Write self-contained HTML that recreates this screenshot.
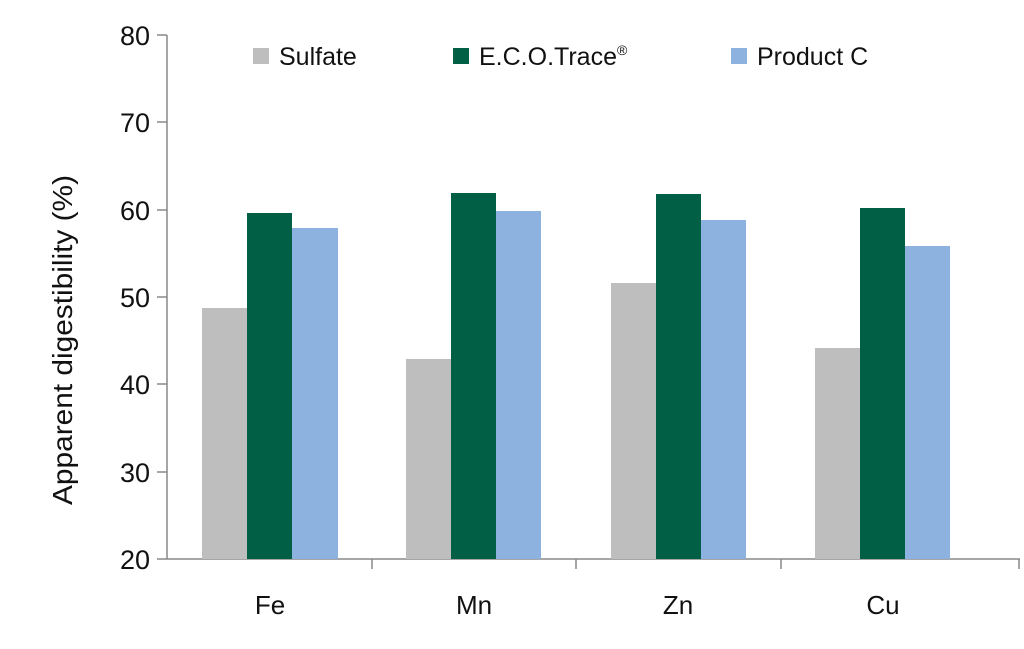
<!DOCTYPE html>
<html><head><meta charset="utf-8"><style>
body{margin:0;background:#fff;}
text{font-family:"Liberation Sans",sans-serif;fill:#111;}
</style></head><body>
<svg width="1024" height="644" xmlns="http://www.w3.org/2000/svg">
<g stroke="#888" stroke-width="1.5" fill="none">
<line x1="167" y1="35" x2="167" y2="559"/>
<line x1="167" y1="559" x2="1020" y2="559"/>
<line x1="157" y1="35" x2="167" y2="35"/>
<line x1="157" y1="122" x2="167" y2="122"/>
<line x1="157" y1="210" x2="167" y2="210"/>
<line x1="157" y1="297" x2="167" y2="297"/>
<line x1="157" y1="384" x2="167" y2="384"/>
<line x1="157" y1="472" x2="167" y2="472"/>
<line x1="157" y1="559" x2="167" y2="559"/>
<line x1="372" y1="559" x2="372" y2="569"/>
<line x1="576" y1="559" x2="576" y2="569"/>
<line x1="781" y1="559" x2="781" y2="569"/>
<line x1="1019" y1="559" x2="1019" y2="569"/>
</g>
<g font-size="27" text-anchor="end">
<text x="150" y="45">80</text>
<text x="150" y="132">70</text>
<text x="150" y="220">60</text>
<text x="150" y="307">50</text>
<text x="150" y="394">40</text>
<text x="150" y="482">30</text>
<text x="150" y="569">20</text>
</g>
<text x="72" y="340" font-size="28" text-anchor="middle" textLength="330" lengthAdjust="spacingAndGlyphs" transform="rotate(-90 72 340)">Apparent digestibility (%)</text>
<g font-size="26" text-anchor="middle">
<text x="270" y="614">Fe</text>
<text x="474" y="614">Mn</text>
<text x="678" y="614">Zn</text>
<text x="883" y="614">Cu</text>
</g>
<g>
<rect x="202" y="308" width="45" height="251" fill="#bfbebe"/>
<rect x="247" y="213" width="45" height="346" fill="#005f45"/>
<rect x="292" y="228" width="46" height="331" fill="#8eb2df"/>
<rect x="406" y="359" width="45" height="200" fill="#bfbebe"/>
<rect x="451" y="193" width="45" height="366" fill="#005f45"/>
<rect x="496" y="211" width="45" height="348" fill="#8eb2df"/>
<rect x="611" y="283" width="45" height="276" fill="#bfbebe"/>
<rect x="656" y="194" width="45" height="365" fill="#005f45"/>
<rect x="701" y="220" width="45" height="339" fill="#8eb2df"/>
<rect x="815" y="348" width="45" height="211" fill="#bfbebe"/>
<rect x="860" y="208" width="45" height="351" fill="#005f45"/>
<rect x="905" y="246" width="45" height="313" fill="#8eb2df"/>
</g>
<g font-size="25">
<rect x="253" y="48" width="16" height="16" fill="#bfbebe"/>
<text x="279" y="65">Sulfate</text>
<rect x="453" y="48" width="16" height="16" fill="#005f45"/>
<text x="479" y="65">E.C.O.Trace<tspan font-size="14" dy="-10">®</tspan></text>
<rect x="731" y="48" width="16" height="16" fill="#8eb2df"/>
<text x="757" y="65">Product C</text>
</g>
</svg>
</body></html>
